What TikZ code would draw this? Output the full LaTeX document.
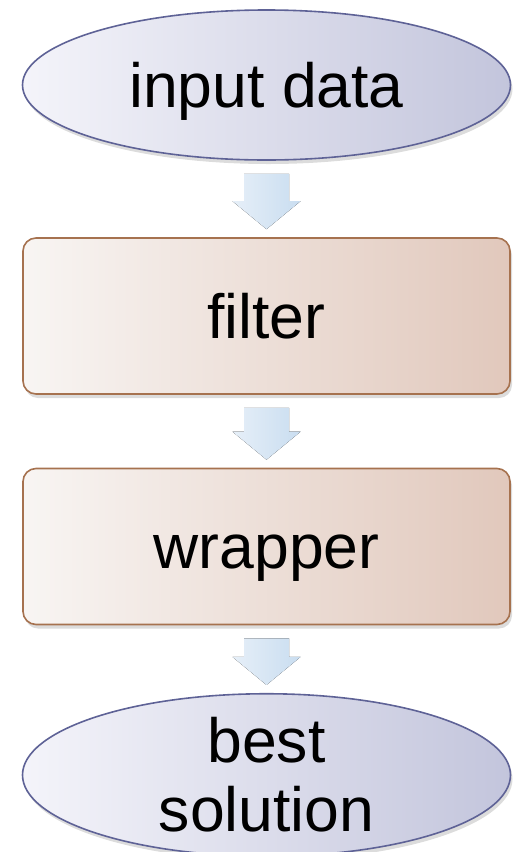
\documentclass[tikz,border=0pt]{standalone}
\usepackage{fontspec}
\setmainfont{Liberation Sans}
\usetikzlibrary{shapes.geometric,shadows,calc}
\definecolor{ellborder}{HTML}{5E6296}
\definecolor{ellleft}{HTML}{F4F4FA}
\definecolor{ellright}{HTML}{C3C5DC}
\definecolor{boxborder}{HTML}{A6724F}
\definecolor{boxleft}{HTML}{F8F5F3}
\definecolor{boxright}{HTML}{E1C8BC}
\definecolor{arrleft}{HTML}{E6EFF8}
\definecolor{arrright}{HTML}{C9DDF0}
\tikzset{
  softshadow/.style={drop shadow={opacity=0.28, shadow xshift=2pt, shadow yshift=-4pt}},
  term/.style={ellipse, draw=ellborder, line width=1.6pt, left color=ellleft, right color=ellright,
    minimum width=488pt, minimum height=150pt, inner sep=0pt, softshadow,
    font=\fontsize{62.5}{69}\selectfont, align=center},
  stepbox/.style={rectangle, rounded corners=13pt, draw=boxborder, line width=1.6pt,
    left color=boxleft, right color=boxright, minimum width=487pt, minimum height=156pt,
    inner sep=0pt, softshadow, font=\fontsize{62.5}{69}\selectfont, text height=45pt, text depth=1pt},
  flowarrow/.style={left color=arrleft, right color=arrright, draw=none}
}
\newcommand{\flowarr}[2]{%
  \fill[flowarrow] ($(#1.south)+(-22.5,-13)$) -- ($(#1.south)+(22.5,-13)$)
    -- ($(#2.north)+(22.5,36)$) -- ($(#2.north)+(34,36)$) -- ($(#2.north)+(0,8)$)
    -- ($(#2.north)+(-34,36)$) -- ($(#2.north)+(-22.5,36)$) -- cycle;}
\begin{document}
\begin{tikzpicture}[x=1pt,y=1pt]
\useasboundingbox (0,0) rectangle (518,-852);
\node[term, text height=45pt, text depth=1pt] (in) at (266.5,-85) {input data};
\node[stepbox] (filt) at (266.5,-316) {filter};
\node[stepbox] (wrap) at (266.5,-546.5) {wrapper};
\node[term] (best) at (266.5,-775) {best\\solution};
\flowarr{in}{filt}
\flowarr{filt}{wrap}
\flowarr{wrap}{best}
\end{tikzpicture}
\end{document}
